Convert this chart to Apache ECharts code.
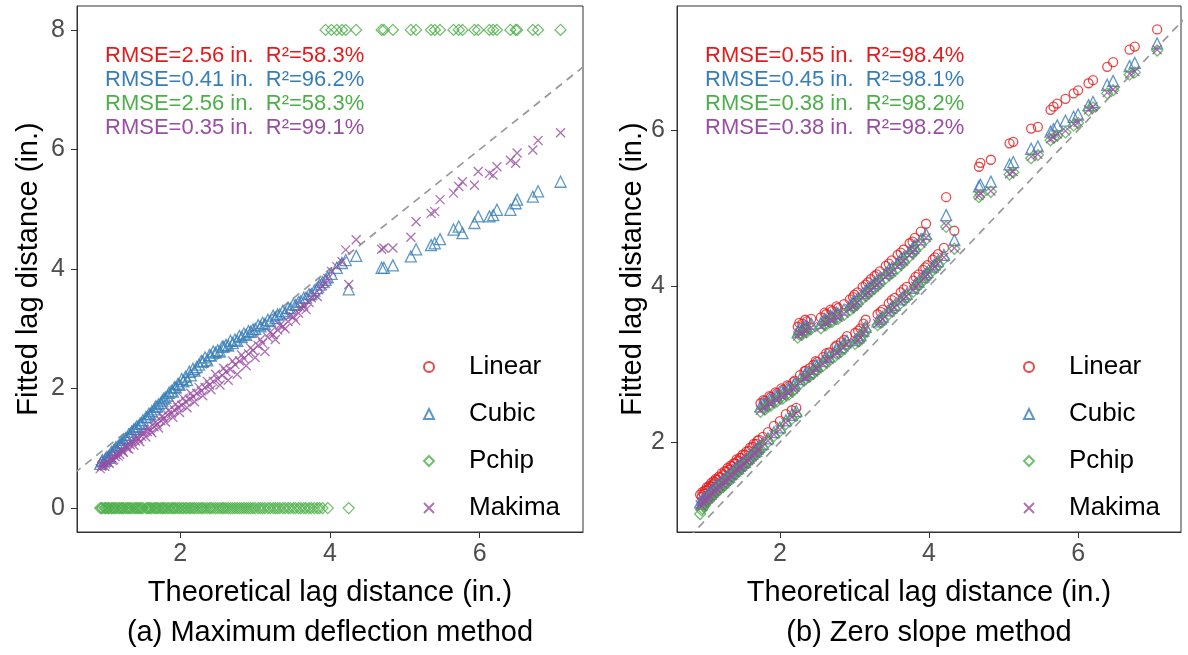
<!DOCTYPE html>
<html><head><meta charset="utf-8">
<script src="https://cdn.jsdelivr.net/npm/echarts@6/dist/echarts.min.js"></script>
<style>html,body{margin:0;padding:0;background:#fff}#c{width:1188px;height:655px}</style>
</head><body><div id="c"></div>
<script>
// ---------- data ----------
const seriesNames = ['Linear', 'Cubic', 'Pchip', 'Makima'];
const xTicks = [2, 4, 6];
const leftYTicks = [0, 2, 4, 6, 8];
const rightYTicks = [2, 4, 6];
const diagonal = [0, 8];

const leftStats = ['RMSE=2.56 in.  R\u00B2=58.3%', 'RMSE=0.41 in.  R\u00B2=96.2%', 'RMSE=2.56 in.  R\u00B2=58.3%', 'RMSE=0.35 in.  R\u00B2=99.1%'];
const rightStats = ['RMSE=0.55 in.  R\u00B2=98.4%', 'RMSE=0.45 in.  R\u00B2=98.1%', 'RMSE=0.38 in.  R\u00B2=98.2%', 'RMSE=0.38 in.  R\u00B2=98.2%'];
const captions = ['(a) Maximum deflection method', '(b) Zero slope method'];
const xTitle = 'Theoretical lag distance (in.)';
const yTitle = 'Fitted lag distance (in.)';

// (a) Maximum deflection method (Linear marks are not visible in this panel)
const leftX = [0.93,0.96,0.99,1.02,1.05,1.08,1.11,1.14,1.17,1.21,1.24,1.27,1.31,1.35,1.38,1.42,1.46,1.50,1.54,1.58,
  1.62,1.67,1.71,1.76,1.80,1.85,1.90,1.94,1.99,2.04,2.09,2.14,2.19,2.25,2.30,2.36,2.41,2.47,2.53,2.58,
  2.64,2.70,2.76,2.82,2.88,2.94,3.00,3.07,3.13,3.20,3.27,3.33,3.40,3.47,3.54,3.61,3.68,3.75,3.83,3.90,
  3.94,3.97,4.02,4.09,4.16,
  4.21,4.25,4.35,4.69,4.72,4.84,5.08,5.15,5.35,5.40,5.47,5.65,5.72,5.77,5.93,5.98,6.13,6.18,6.23,6.41,
  6.48,6.50,6.71,6.78,7.08,
  0.95,1.00,1.04,1.09,1.13,1.19,1.23,1.29,1.33,1.40,1.44,1.48,1.56,1.60,1.65,1.69,1.74,1.78,1.83,1.88,
  1.92,1.97,2.02,2.07,2.12,2.17,2.22,2.28,2.33,2.39,2.44,2.50,2.56,2.61,2.67,2.73,2.79,2.85,2.91,2.97,
  3.04,3.10,3.17,3.24,3.30,3.37,3.44,3.51,3.58,3.65,3.72,3.79,3.86];
const leftCubic = [0.74,0.80,0.79,0.86,0.88,0.94,0.97,1.02,1.04,1.10,1.14,1.17,1.23,1.28,1.32,1.37,1.41,1.47,1.52,1.58,
  1.62,1.70,1.74,1.80,1.85,1.93,1.95,2.02,2.06,2.12,2.14,2.22,2.30,2.40,2.45,2.47,2.55,2.60,2.62,2.70,
  2.72,2.76,2.80,2.86,2.90,2.95,3.00,3.04,3.08,3.13,3.18,3.24,3.27,3.34,3.40,3.46,3.52,3.58,3.68,3.78,
  3.82,3.86,3.92,4.02,4.10,
  4.15,3.66,4.22,4.02,4.02,4.06,4.21,4.33,4.40,4.43,4.50,4.66,4.71,4.60,4.77,4.88,4.88,4.90,4.99,4.99,
  5.10,5.16,5.21,5.30,5.46,
  0.78,0.83,0.84,0.92,0.98,1.06,1.09,1.18,1.22,1.33,1.36,1.42,1.53,1.57,1.65,1.70,1.76,1.83,1.88,1.96,
  2.02,2.08,2.16,2.20,2.28,2.33,2.36,2.46,2.52,2.56,2.62,2.64,2.70,2.73,2.80,2.82,2.88,2.92,2.96,2.99,
  3.06,3.10,3.15,3.22,3.24,3.30,3.35,3.41,3.45,3.52,3.58,3.64,3.74];
const leftPchip = [0,0,0,0,0,0,0,0,0,0,0,0,0,0,0,0,0,0,0,0,
  0,0,0,0,0,0,0,0,0,0,0,0,0,0,0,0,0,0,0,0,
  0,0,0,0,0,0,0,0,0,0,0,0,0,0,0,0,0,0,0,0,
  8,0,8,8,8,
  8,0,8,8,8,8,8,8,8,8,8,8,8,8,8,8,8,8,8,8,
  8,8,8,8,8,
  0,0,0,0,0,0,0,0,0,0,0,0,0,0,0,0,0,0,0,0,
  0,0,0,0,0,0,0,0,0,0,0,0,0,0,0,0,0,0,0,0,
  0,0,0,0,0,0,0,0,0,0,0,0,0];
const leftMakima = [0.66,0.72,0.70,0.78,0.75,0.84,0.81,0.90,0.87,0.97,0.93,1.04,0.99,1.12,1.05,1.18,1.11,1.26,1.19,1.34,
  1.26,1.44,1.34,1.54,1.44,1.64,1.52,1.74,1.60,1.84,1.68,1.92,1.78,2.02,1.88,2.12,1.98,2.24,2.06,2.34,
  2.14,2.46,2.24,2.56,2.38,2.68,2.52,2.82,2.62,2.94,2.82,3.06,3.00,3.22,3.14,3.36,3.32,3.52,3.54,3.72,
  3.76,3.84,3.96,4.04,4.12,
  4.32,3.74,4.49,4.33,4.35,4.35,4.53,4.79,4.93,4.96,5.16,5.27,5.38,5.46,5.40,5.63,5.60,5.57,5.71,5.82,
  5.77,5.94,5.99,6.15,6.28,
  0.70,0.74,0.76,0.80,0.86,0.90,0.95,1.00,1.06,1.12,1.16,1.20,1.28,1.30,1.36,1.40,1.46,1.50,1.56,1.58,
  1.64,1.68,1.72,1.78,1.82,1.86,1.92,1.96,2.02,2.06,2.12,2.16,2.22,2.28,2.32,2.40,2.46,2.50,2.58,2.64,
  2.72,2.76,2.86,2.90,2.98,3.04,3.12,3.20,3.26,3.38,3.44,3.58,3.68];

// (b) Zero slope method
const rightX = [0.93,0.96,0.99,1.02,1.05,1.08,1.11,1.14,1.18,1.22,1.26,1.30,1.34,1.38,1.42,1.46,1.50,1.55,1.60,1.65,1.70,
  1.74,1.77,1.80,1.84,1.88,1.92,1.96,2.00,2.04,2.08,2.12,2.16,2.20,2.22,
  2.24,2.27,2.30,2.33,2.36,2.40,2.42,2.45,2.50,2.55,2.58,2.62,2.66,2.70,2.74,2.78,2.82,2.86,2.90,
  2.94,2.98,3.01,3.04,3.08,3.11,3.15,3.18,3.22,3.27,3.31,3.34,3.38,3.42,3.46,3.50,3.54,3.58,3.62,3.66,
  3.70,3.74,3.79,3.81,3.86,3.89,3.92,3.96,3.98,4.05,4.12,4.20,
  4.23,4.34,4.67,4.69,4.83,5.08,5.13,5.37,5.46,5.63,5.67,5.72,5.83,5.94,6.00,6.14,6.20,6.39,6.47,6.69,6.76,7.06,
  0.95,0.98,1.01,1.04,1.07,1.10,1.13,1.16,1.20,1.24,1.28,1.32,1.36,1.40,1.44,1.48,1.53,1.58,1.63,1.68,1.72,
  1.78,1.86,1.94,2.02,2.10,2.18,2.26,2.34,2.60,2.68,2.76,2.35,2.48,2.62,2.76,2.86,3.05,3.12,
  3.00,3.15,3.30,3.46,3.62,3.78,3.35,3.50,3.66,3.82,3.95,4.08];
const rightLinear = [1.33,1.36,1.38,1.42,1.44,1.48,1.50,1.53,1.56,1.60,1.63,1.67,1.70,1.73,1.78,1.80,1.84,1.88,1.93,1.98,2.02,
  2.50,2.07,2.53,2.13,2.58,2.21,2.63,2.27,2.67,2.36,2.72,2.41,2.79,2.44,
  3.48,2.86,3.52,2.91,3.55,2.95,3.58,2.99,3.03,3.60,3.09,3.64,3.15,3.68,3.22,3.72,3.28,3.77,3.36,
  3.83,3.86,3.40,3.92,3.46,3.99,3.57,4.05,4.09,4.13,3.64,4.19,3.70,4.26,3.78,4.33,3.85,4.40,3.92,4.47,
  3.99,4.55,4.07,4.62,4.15,4.70,4.21,4.80,4.27,4.34,4.41,4.49,
  5.14,4.71,5.53,5.58,5.62,5.83,5.85,6.02,6.04,6.26,6.30,6.34,6.40,6.47,6.51,6.60,6.64,6.81,6.87,7.03,7.07,7.29,
  1.30,1.34,1.38,1.40,1.43,1.46,1.49,1.52,1.55,1.58,1.62,1.65,1.69,1.73,1.76,1.80,1.84,1.89,1.94,1.98,2.03,
  2.54,2.59,2.64,2.69,2.73,2.77,3.53,3.57,3.66,3.70,3.74,2.92,3.04,3.14,3.24,3.31,3.43,3.52,
  3.89,4.02,4.15,4.29,4.43,4.57,3.67,3.82,3.96,4.12,4.24,4.37];
const rightCubic = [1.23,1.26,1.28,1.32,1.34,1.38,1.40,1.44,1.46,1.50,1.53,1.57,1.60,1.64,1.68,1.70,1.74,1.78,1.83,1.88,1.92,
  2.46,1.98,2.49,2.05,2.54,2.13,2.59,2.19,2.63,2.28,2.68,2.35,2.75,2.40,
  3.41,2.81,3.45,2.86,3.48,2.90,3.52,2.94,2.98,3.53,3.04,3.57,3.10,3.61,3.16,3.65,3.22,3.70,3.30,
  3.76,3.79,3.31,3.84,3.37,3.91,3.48,3.97,4.00,4.04,3.55,4.10,3.61,4.17,3.69,4.23,3.76,4.30,3.83,4.37,
  3.90,4.45,3.98,4.52,4.06,4.60,4.12,4.67,4.18,4.25,4.32,4.40,
  4.91,4.59,5.28,5.30,5.34,5.56,5.59,5.76,5.79,5.98,6.01,6.06,6.12,6.17,6.20,6.32,6.36,6.58,6.63,6.82,6.86,7.11,
  1.21,1.25,1.29,1.31,1.34,1.37,1.40,1.43,1.46,1.49,1.53,1.56,1.60,1.64,1.67,1.71,1.75,1.80,1.85,1.89,1.94,
  2.50,2.55,2.60,2.65,2.69,2.73,3.45,3.49,3.58,3.62,3.66,2.88,3.00,3.10,3.20,3.27,3.34,3.43,
  3.81,3.94,4.07,4.21,4.35,4.49,3.58,3.73,3.87,4.03,4.15,4.28];
const rightPchip = [1.08,1.15,1.19,1.24,1.27,1.32,1.35,1.38,1.42,1.45,1.48,1.53,1.56,1.60,1.64,1.66,1.70,1.74,1.78,1.84,1.88,
  2.39,1.93,2.42,2.00,2.47,2.08,2.52,2.14,2.56,2.23,2.61,2.30,2.68,2.35,
  3.34,2.75,3.38,2.80,3.41,2.84,3.45,2.88,2.92,3.46,2.98,3.50,3.04,3.54,3.10,3.58,3.16,3.63,3.24,
  3.69,3.72,3.26,3.77,3.32,3.84,3.43,3.90,3.93,3.97,3.50,4.03,3.56,4.10,3.64,4.16,3.71,4.23,3.78,4.30,
  3.85,4.38,3.93,4.45,4.01,4.53,4.07,4.60,4.13,4.20,4.27,4.35,
  4.76,4.48,5.14,5.17,5.21,5.43,5.46,5.64,5.68,5.87,5.90,5.93,5.97,6.06,6.09,6.25,6.29,6.47,6.51,6.71,6.74,7.02,
  1.13,1.18,1.22,1.25,1.28,1.31,1.34,1.37,1.40,1.43,1.47,1.51,1.55,1.59,1.62,1.66,1.70,1.75,1.80,1.84,1.89,
  2.43,2.48,2.53,2.58,2.62,2.66,3.38,3.42,3.51,3.55,3.59,2.81,2.93,3.03,3.13,3.20,3.29,3.38,
  3.74,3.87,4.00,4.14,4.28,4.42,3.53,3.68,3.82,3.98,4.10,4.23];
const rightMakima = [1.20,1.24,1.25,1.30,1.31,1.36,1.38,1.41,1.44,1.48,1.50,1.55,1.58,1.62,1.66,1.68,1.72,1.76,1.80,1.86,1.90,
  2.41,1.95,2.44,2.02,2.49,2.10,2.54,2.16,2.58,2.25,2.63,2.32,2.70,2.37,
  3.36,2.77,3.40,2.82,3.43,2.86,3.47,2.90,2.94,3.48,3.00,3.52,3.06,3.56,3.12,3.60,3.18,3.65,3.26,
  3.71,3.74,3.28,3.79,3.34,3.86,3.45,3.92,3.95,3.99,3.52,4.05,3.58,4.12,3.66,4.18,3.73,4.25,3.80,4.32,
  3.87,4.40,3.95,4.47,4.03,4.55,4.09,4.62,4.15,4.22,4.29,4.37,
  4.78,4.49,5.16,5.19,5.22,5.44,5.47,5.66,5.69,5.89,5.91,5.95,5.99,6.08,6.10,6.26,6.30,6.48,6.52,6.72,6.75,7.03,
  1.18,1.22,1.26,1.28,1.31,1.34,1.37,1.40,1.43,1.46,1.50,1.53,1.57,1.61,1.64,1.68,1.72,1.77,1.82,1.86,1.91,
  2.45,2.50,2.55,2.60,2.64,2.68,3.40,3.44,3.53,3.57,3.61,2.83,2.95,3.05,3.15,3.22,3.31,3.40,
  3.76,3.89,4.02,4.16,4.30,4.44,3.55,3.70,3.84,4.00,4.12,4.25];

// ---------- styling ----------
const FONT = '"Liberation Sans", Arial, sans-serif';
const colors = ['#E41A1C', '#377EB8', '#4DAF4A', '#984EA3'];
const symbols = ['circle', 'triangle', 'diamond', 'path://M0,0L10,10M10,0L0,10'];
const sizes = [9, 11, 11, 9];

const panels = [
  { x: leftX, ys: [null, leftCubic, leftPchip, leftMakima], yMin: -0.4, yMax: 8.4, yTicks: leftYTicks,
    grid: { left: 77, top: 6, width: 506, height: 526 }, yNameGap: 34, stats: leftStats, statX: 105,
    legendLeft: 423, caption: captions[0], capX: 330 },
  { x: rightX, ys: [rightLinear, rightCubic, rightPchip, rightMakima], yMin: 0.85, yMax: 7.59, yTicks: rightYTicks,
    grid: { left: 677, top: 6, width: 504, height: 526 }, yNameGap: 29, stats: rightStats, statX: 705,
    legendLeft: 1023, caption: captions[1], capX: 929 }
];

const grids = [], xAxes = [], yAxes = [], series = [], legends = [], graphics = [];
panels.forEach((p, gi) => {
  grids.push(Object.assign({ show: true, borderColor: '#333', borderWidth: 1, containLabel: false }, p.grid));
  xAxes.push({
    type: 'value', gridIndex: gi, min: 0.62, max: 7.38,
    splitLine: { show: false },
    axisLine: { show: true, onZero: false, lineStyle: { color: '#333', width: 1 } },
    axisTick: { show: true, length: 6, customValues: xTicks, lineStyle: { color: '#333', width: 1 } },
    axisLabel: { customValues: xTicks, fontSize: 25, color: '#4D4D4D', fontFamily: FONT, margin: 10 },
    name: xTitle, nameLocation: 'middle', nameGap: 46,
    nameTextStyle: { fontSize: 29, color: '#000', fontFamily: FONT }
  });
  yAxes.push({
    type: 'value', gridIndex: gi, min: p.yMin, max: p.yMax,
    splitLine: { show: false },
    axisLine: { show: true, onZero: false, lineStyle: { color: '#333', width: 1 } },
    axisTick: { show: true, length: 6, customValues: p.yTicks, lineStyle: { color: '#333', width: 1 } },
    axisLabel: { customValues: p.yTicks, fontSize: 25, color: '#4D4D4D', fontFamily: FONT, margin: 12 },
    name: yTitle, nameLocation: 'middle', nameGap: p.yNameGap,
    nameTextStyle: { fontSize: 29, color: '#000', fontFamily: FONT }
  });
  series.push({
    type: 'line', xAxisIndex: gi, yAxisIndex: gi, silent: true, symbol: 'none',
    data: diagonal.map(v => [v, v]),
    lineStyle: { color: '#999999', width: 1.7, type: [8, 6] }, z: 1
  });
  seriesNames.forEach((name, si) => {
    if (!p.ys[si]) return;
    series.push({
      type: 'scatter', name: name, xAxisIndex: gi, yAxisIndex: gi,
      symbol: symbols[si], symbolSize: sizes[si],
      itemStyle: { color: 'rgba(0,0,0,0)', borderColor: colors[si], borderWidth: 1.3 },
      data: p.x.map((xv, i) => [xv, p.ys[si][i]]), z: 2 + si
    });
  });
  legends.push({
    data: seriesNames, orient: 'vertical', left: p.legendLeft, top: 354, padding: 0,
    itemWidth: 10, itemHeight: 10, itemGap: 21, selectedMode: false,
    textStyle: { fontSize: 26, color: '#000', fontFamily: FONT, padding: [0, 0, 0, 30] }
  });
  p.stats.forEach((t, k) => {
    graphics.push({ type: 'text', x: p.statX, y: 56 + k * 24, z: 10,
      style: { text: t, fill: colors[k], font: '22px ' + FONT, verticalAlign: 'middle' } });
  });
  graphics.push({ type: 'text', x: p.capX, y: 633,
    style: { text: p.caption, fill: '#000', font: '29px ' + FONT, align: 'center', verticalAlign: 'middle' } });
});

const chart = echarts.init(document.getElementById('c'), null, { renderer: 'canvas' });
chart.setOption({
  animation: false,
  backgroundColor: '#fff',
  grid: grids, xAxis: xAxes, yAxis: yAxes, series: series, legend: legends, graphic: graphics
});
</script></body></html>
